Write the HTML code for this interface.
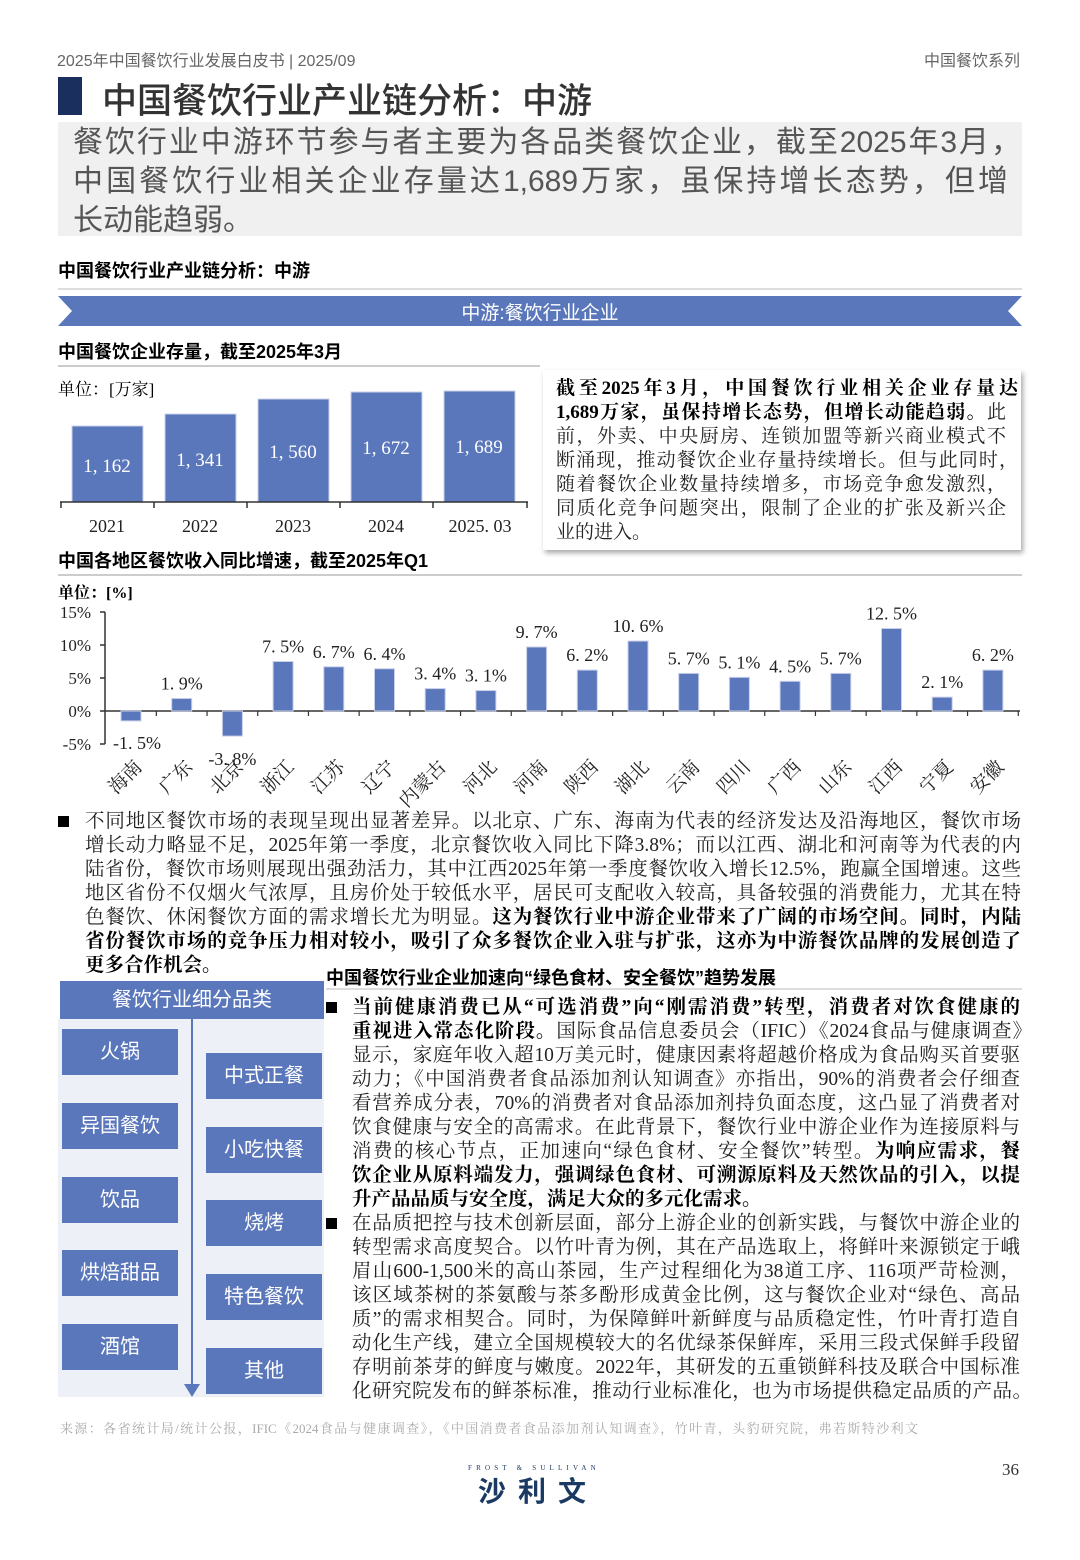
<!DOCTYPE html>
<html><head><meta charset="utf-8">
<style>
*{margin:0;padding:0;box-sizing:border-box}
body{width:1080px;height:1560px;background:#fff;position:relative;overflow:hidden;font-family:"Liberation Sans","Noto Sans CJK SC",sans-serif;color:#000}
.a{position:absolute;white-space:nowrap}
.serif{font-family:"Liberation Serif","Noto Serif CJK SC",serif}
.ln{position:absolute;white-space:nowrap;font-size:19.5px;line-height:24px;height:24px;text-align:justify;text-align-last:justify;font-family:"Liberation Serif","Noto Serif CJK SC",serif;color:#222}
.ln.l{text-align-last:left}
.b{font-weight:bold;color:#000}
.sm{position:absolute;white-space:nowrap;font-size:30px;line-height:39px;height:39px;color:#555;text-align:justify;text-align-last:justify}
.box{position:absolute;background:#5b77bb;color:#fff;font-size:20px;text-align:center;font-family:"Liberation Sans","Noto Sans CJK SC",sans-serif}
</style></head><body>
<div class="a" style="left:57px;top:47px;font-size:16px;color:#666">2025年中国餐饮行业发展白皮书 | 2025/09</div>
<div class="a" style="right:60px;top:47px;font-size:16px;color:#666">中国餐饮系列</div>
<div class="a" style="left:58px;top:77px;width:24px;height:38px;background:#1b2f5e"></div>
<div class="a" style="left:102px;top:73px;font-size:35px;color:#333;font-weight:500">中国餐饮行业产业链分析：中游</div>
<div class="a" style="left:58px;top:122px;width:964px;height:114px;background:#f0f0f0"></div>
<div class="sm" style="left:73px;top:123px;width:948px">餐饮行业中游环节参与者主要为各品类餐饮企业，截至2025年3月，</div>
<div class="sm" style="left:73px;top:162px;width:935px">中国餐饮行业相关企业存量达1,689万家，虽保持增长态势，但增</div>
<div class="sm" style="left:73px;top:201px;width:935px;text-align-last:left">长动能趋弱。</div>
<div class="a" style="left:58px;top:257px;font-size:18px;font-weight:bold">中国餐饮行业产业链分析：中游</div>
<div class="a" style="left:58px;top:288px;width:964px;height:2px;background:#ddd"></div>
<svg class="a" style="left:0;top:0" width="1080" height="1560">
<polygon points="58,296 1022,296 1008,311 1022,326 58,326 72,311" fill="#5b77bb"/>
<text x="540" y="319" text-anchor="middle" fill="#fff" font-size="19" font-family="Liberation Sans,Noto Sans CJK SC,sans-serif">中游:餐饮行业企业</text>
<line x1="58" y1="366" x2="540" y2="366" stroke="#ccc" stroke-width="2"/>
<line x1="58" y1="575" x2="1022" y2="575" stroke="#ccc" stroke-width="2"/>
<g fill="#5b77bb" stroke="#c8d0ea" stroke-width="1">
<rect x="72" y="426" width="71" height="76"/><rect x="165" y="414" width="71" height="88"/><rect x="258" y="399" width="71" height="103"/><rect x="351" y="392" width="71" height="110"/><rect x="444" y="391" width="71" height="111"/></g>
<g stroke="#333" stroke-width="1.5"><line x1="60" y1="502" x2="528" y2="502"/>
<line x1="61" y1="502" x2="61" y2="508"/><line x1="154" y1="502" x2="154" y2="508"/><line x1="247" y1="502" x2="247" y2="508"/><line x1="340" y1="502" x2="340" y2="508"/><line x1="433" y1="502" x2="433" y2="508"/><line x1="527" y1="502" x2="527" y2="508"/></g>
<g font-family="Liberation Serif,Noto Serif CJK SC,serif" font-size="19" fill="#fff" text-anchor="middle">
<text x="107" y="472">1, 162</text><text x="200" y="466">1, 341</text><text x="293" y="458">1, 560</text><text x="386" y="454">1, 672</text><text x="479" y="453">1, 689</text></g>
<g font-family="Liberation Serif,Noto Serif CJK SC,serif" font-size="18" fill="#222" text-anchor="middle">
<text x="107" y="532">2021</text><text x="200" y="532">2022</text><text x="293" y="532">2023</text><text x="386" y="532">2024</text><text x="480" y="532">2025. 03</text></g>
<g font-family="Liberation Serif,Noto Serif CJK SC,serif" font-size="17" fill="#222" text-anchor="end">
<text x="91" y="618">15%</text><text x="91" y="651">10%</text><text x="91" y="684">5%</text><text x="91" y="717">0%</text><text x="91" y="750">-5%</text></g>
<g stroke="#333" stroke-width="1.5"><line x1="105" y1="612" x2="105" y2="744"/>
<line x1="100" y1="612" x2="105" y2="612"/><line x1="100" y1="645" x2="105" y2="645"/><line x1="100" y1="678" x2="105" y2="678"/><line x1="100" y1="711" x2="105" y2="711"/><line x1="100" y1="744" x2="105" y2="744"/>
<line x1="105" y1="711" x2="1020" y2="711"/></g>
<g id="rc"></g>
</svg>
<div class="a" style="left:58px;top:338px;font-size:18px;font-weight:bold">中国餐饮企业存量，截至2025年3月</div>
<div class="a serif" style="left:58px;top:375px;font-size:17px">单位：[万家]</div>
<div class="a" style="left:543px;top:370px;width:478px;height:180px;background:#fff;box-shadow:2px 3px 5px rgba(0,0,0,.35)"></div>
<div class="ln b" style="left:556px;top:377px;width:462px;font-size:19px">截至2025年3月，中国餐饮行业相关企业存量达</div>
<div class="ln" style="left:556px;top:401px;width:450px;font-size:19px"><span class="b">1,689万家，虽保持增长态势，但增长动能趋弱。</span>此</div>
<div class="ln" style="left:556px;top:425px;width:450px;font-size:19px">前，外卖、中央厨房、连锁加盟等新兴商业模式不</div>
<div class="ln" style="left:556px;top:449px;width:462px;font-size:19px">断涌现，推动餐饮企业存量持续增长。但与此同时，</div>
<div class="ln" style="left:556px;top:473px;width:450px;font-size:19px">随着餐饮企业数量持续增多，市场竞争愈发激烈，</div>
<div class="ln" style="left:556px;top:497px;width:450px;font-size:19px">同质化竞争问题突出，限制了企业的扩张及新兴企</div>
<div class="ln l" style="left:556px;top:521px;width:450px;font-size:19px">业的进入。</div>
<div class="a" style="left:58px;top:547px;font-size:18px;font-weight:bold">中国各地区餐饮收入同比增速，截至2025年Q1</div>
<div class="a serif" style="left:58px;top:580px;font-size:16px;font-weight:bold">单位：[%]</div>

<div class="a" style="left:58px;top:816px;width:11px;height:11px;background:#000"></div>
<div class="ln" style="left:85px;top:810px;width:936px">不同地区餐饮市场的表现呈现出显著差异。以北京、广东、海南为代表的经济发达及沿海地区，餐饮市场</div>
<div class="ln" style="left:85px;top:834px;width:936px">增长动力略显不足，2025年第一季度，北京餐饮收入同比下降3.8%；而以江西、湖北和河南等为代表的内</div>
<div class="ln" style="left:85px;top:858px;width:936px">陆省份，餐饮市场则展现出强劲活力，其中江西2025年第一季度餐饮收入增长12.5%，跑赢全国增速。这些</div>
<div class="ln" style="left:85px;top:882px;width:936px">地区省份不仅烟火气浓厚，且房价处于较低水平，居民可支配收入较高，具备较强的消费能力，尤其在特</div>
<div class="ln" style="left:85px;top:906px;width:936px">色餐饮、休闲餐饮方面的需求增长尤为明显。<span class="b">这为餐饮行业中游企业带来了广阔的市场空间。同时，内陆</span></div>
<div class="ln b" style="left:85px;top:930px;width:936px">省份餐饮市场的竞争压力相对较小，吸引了众多餐饮企业入驻与扩张，这亦为中游餐饮品牌的发展创造了</div>
<div class="ln l b" style="left:85px;top:954px;width:936px">更多合作机会。</div>

<div class="a" style="left:326px;top:964px;font-size:18px;font-weight:bold">中国餐饮行业企业加速向“绿色食材、安全餐饮”趋势发展</div>
<div class="a" style="left:326px;top:988px;width:696px;height:2px;background:#ddd"></div>

<div class="box" style="left:60px;top:981px;width:264px;height:38px;line-height:38px">餐饮行业细分品类</div>
<div class="a" style="left:58px;top:1019px;width:266px;height:378px;background:#edf0f7"></div>
<div class="a" style="left:191px;top:1019px;width:2px;height:370px;background:#5b77bb"></div>
<svg class="a" style="left:184px;top:1384px" width="16" height="14"><polygon points="0,0 16,0 8,13" fill="#5b77bb"/></svg>
<div class="box" style="left:62px;top:1029px;width:116px;height:46px;line-height:46px">火锅</div>
<div class="box" style="left:62px;top:1103px;width:116px;height:46px;line-height:46px">异国餐饮</div>
<div class="box" style="left:62px;top:1177px;width:116px;height:46px;line-height:46px">饮品</div>
<div class="box" style="left:62px;top:1250px;width:116px;height:46px;line-height:46px">烘焙甜品</div>
<div class="box" style="left:62px;top:1324px;width:116px;height:46px;line-height:46px">酒馆</div>
<div class="box" style="left:206px;top:1053px;width:116px;height:46px;line-height:46px">中式正餐</div>
<div class="box" style="left:206px;top:1127px;width:116px;height:46px;line-height:46px">小吃快餐</div>
<div class="box" style="left:206px;top:1200px;width:116px;height:46px;line-height:46px">烧烤</div>
<div class="box" style="left:206px;top:1274px;width:116px;height:46px;line-height:46px">特色餐饮</div>
<div class="box" style="left:206px;top:1348px;width:116px;height:46px;line-height:46px">其他</div>

<div class="a" style="left:326px;top:1002px;width:11px;height:11px;background:#000"></div>
<div class="a" style="left:326px;top:1218px;width:11px;height:11px;background:#000"></div>
<div class="ln b" style="left:352px;top:996px;width:668px">当前健康消费已从“可选消费”向“刚需消费”转型，消费者对饮食健康的</div>
<div class="ln" style="left:352px;top:1020px;width:680px"><span class="b">重视进入常态化阶段。</span>国际食品信息委员会（IFIC）《2024食品与健康调查》</div>
<div class="ln" style="left:352px;top:1044px;width:668px">显示，家庭年收入超10万美元时，健康因素将超越价格成为食品购买首要驱</div>
<div class="ln" style="left:352px;top:1068px;width:668px">动力；《中国消费者食品添加剂认知调查》亦指出，90%的消费者会仔细查</div>
<div class="ln" style="left:352px;top:1092px;width:668px">看营养成分表，70%的消费者对食品添加剂持负面态度，这凸显了消费者对</div>
<div class="ln" style="left:352px;top:1116px;width:668px">饮食健康与安全的高需求。在此背景下，餐饮行业中游企业作为连接原料与</div>
<div class="ln" style="left:352px;top:1140px;width:668px">消费的核心节点，正加速向“绿色食材、安全餐饮”转型。<span class="b">为响应需求，餐</span></div>
<div class="ln b" style="left:352px;top:1164px;width:668px">饮企业从原料端发力，强调绿色食材、可溯源原料及天然饮品的引入，以提</div>
<div class="ln l b" style="left:352px;top:1188px;width:668px">升产品品质与安全度，满足大众的多元化需求。</div>
<div class="ln" style="left:352px;top:1212px;width:668px">在品质把控与技术创新层面，部分上游企业的创新实践，与餐饮中游企业的</div>
<div class="ln" style="left:352px;top:1236px;width:668px">转型需求高度契合。以竹叶青为例，其在产品选取上，将鲜叶来源锁定于峨</div>
<div class="ln" style="left:352px;top:1260px;width:668px">眉山600-1,500米的高山茶园，生产过程细化为38道工序、116项严苛检测，</div>
<div class="ln" style="left:352px;top:1284px;width:668px">该区域茶树的茶氨酸与茶多酚形成黄金比例，这与餐饮企业对“绿色、高品</div>
<div class="ln" style="left:352px;top:1308px;width:668px">质”的需求相契合。同时，为保障鲜叶新鲜度与品质稳定性，竹叶青打造自</div>
<div class="ln" style="left:352px;top:1332px;width:668px">动化生产线，建立全国规模较大的名优绿茶保鲜库，采用三段式保鲜手段留</div>
<div class="ln" style="left:352px;top:1356px;width:668px">存明前茶芽的鲜度与嫩度。2022年，其研发的五重锁鲜科技及联合中国标准</div>
<div class="ln" style="left:352px;top:1380px;width:680px">化研究院发布的鲜茶标准，推动行业标准化，也为市场提供稳定品质的产品。</div>

<div class="a serif" style="left:60px;top:1418px;font-size:13px;color:#aaa;width:858px;text-align:justify;text-align-last:justify">来源：各省统计局/统计公报，IFIC《2024食品与健康调查》，《中国消费者食品添加剂认知调查》，竹叶青，头豹研究院，弗若斯特沙利文</div>
<div class="a serif" style="left:468px;top:1464px;font-size:7px;letter-spacing:4.2px;color:#1b3a63">FROST &amp; SULLIVAN</div>
<div class="a" style="left:478px;top:1470px;font-size:28px;font-weight:bold;letter-spacing:12px;color:#1b3a63">沙利文</div>
<div class="a serif" style="left:1002px;top:1460px;font-size:17px;color:#333">36</div>

<script>
(function(){
var names=["海南","广东","北京","浙江","江苏","辽宁","内蒙古","河北","河南","陕西","湖北","云南","四川","广西","山东","江西","宁夏","安徽"];
var v=[-1.5,1.9,-3.8,7.5,6.7,6.4,3.4,3.1,9.7,6.2,10.6,5.7,5.1,4.5,5.7,12.5,2.1,6.2];
var s="";
for(var i=0;i<18;i++){
 var c=131+i*50.7, h=v[i]*6.6, y=h>0?711-h:711;
 s+='<rect x="'+(c-10)+'" y="'+y+'" width="20" height="'+Math.abs(h)+'" fill="#5b77bb" stroke="#c8d0ea" stroke-width="1"/>';
 s+='<line x1="'+(c+25.35)+'" y1="711" x2="'+(c+25.35)+'" y2="716" stroke="#333" stroke-width="1.2"/>';
 var t=(v[i]<0?'-':'')+Math.abs(v[i]).toFixed(1).replace('.','. ')+'%';
 var lx=c, ly=711-h-9;
 if(i==0){lx=c+6;ly=749;}
 if(i==2){lx=c;ly=765;}
 s+='<text x="'+lx+'" y="'+ly+'" text-anchor="middle" font-size="18" font-family="Liberation Serif,Noto Serif CJK SC,serif" fill="#222">'+t+'</text>';
 s+='<text transform="translate('+(c+12)+',768) rotate(-45)" text-anchor="end" font-size="19" font-family="Liberation Serif,Noto Serif CJK SC,serif" fill="#222">'+names[i]+'</text>';
}
document.getElementById("rc").innerHTML=s;
})();
</script>
</body></html>
